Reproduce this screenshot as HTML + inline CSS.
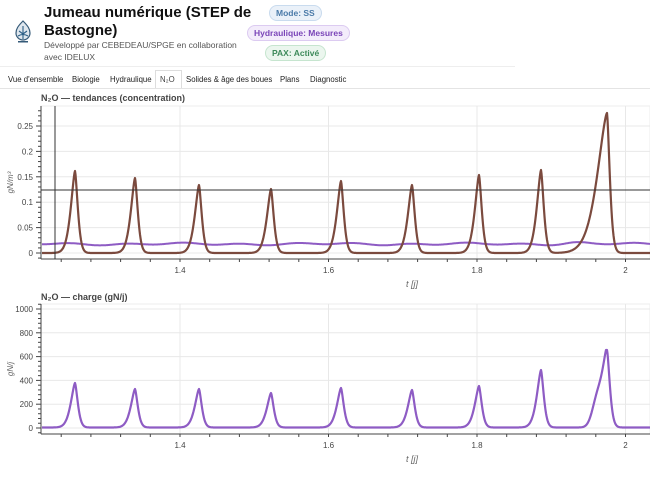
<!DOCTYPE html>
<html><head><meta charset="utf-8"><style>
body{margin:0;width:650px;height:501px;overflow:hidden;background:#fff;font-family:"Liberation Sans",Arial,sans-serif;position:relative}
.t{position:absolute;white-space:nowrap}
.badge{position:absolute;font-size:8.5px;font-weight:bold;border-radius:9px;padding:2px 6px;border:1px solid}
.tab{position:absolute;top:75px;font-size:7.8px;color:#222;white-space:nowrap}
</style></head><body>
<svg class="t" style="left:14px;top:20px" width="18" height="24" viewBox="0 0 18 24">
<path d="M9 1 C4 6 2 9 2 13 A7 7 0 0 0 16 13 C16 9 14 6 9 1Z" fill="#dfe7ee" stroke="#355a78" stroke-width="1.2"/>
<path d="M9 6 V19 M5 11 L9 14 L13 11 M4 16 Q9 13 14 16" stroke="#2d5f86" stroke-width="1.1" fill="none"/>
<rect x="4" y="21" width="10" height="1.5" fill="#355a78"/>
</svg>
<div class="t" style="left:44px;top:4px;font-size:15px;font-weight:bold;color:#111">Jumeau numérique (STEP de</div>
<div class="t" style="left:44px;top:22px;font-size:15px;font-weight:bold;color:#111">Bastogne)</div>
<div class="t" style="left:44px;top:40px;font-size:8.5px;color:#555">Développé par CEBEDEAU/SPGE en collaboration</div>
<div class="t" style="left:44px;top:52px;font-size:8.5px;color:#555">avec IDELUX</div>
<div class="badge" style="left:269px;top:5px;color:#4a7aa8;background:#eaf1f9;border-color:#c9dbee">Mode: SS</div>
<div class="badge" style="left:247px;top:25px;color:#7a45b8;background:#f3ecfb;border-color:#dccbf1">Hydraulique: Mesures</div>
<div class="badge" style="left:265px;top:45px;color:#3d8a5a;background:#ebf6ee;border-color:#c6e5cf">PAX: Activé</div>
<div class="t" style="left:0;top:66px;width:515px;height:1px;background:#eee"></div>
<div class="tab" style="left:8px">Vue d'ensemble</div>
<div class="tab" style="left:72px">Biologie</div>
<div class="tab" style="left:110px">Hydraulique</div>
<div class="t" style="left:155px;top:70px;width:25px;height:18px;border:1px solid #ddd;border-bottom:none;background:#fff"></div>
<div class="tab" style="left:160px;color:#444">N₂O</div>
<div class="tab" style="left:186px">Solides &amp; âge des boues</div>
<div class="tab" style="left:280px">Plans</div>
<div class="tab" style="left:310px">Diagnostic</div>
<div class="t" style="left:0;top:88px;width:650px;height:1px;background:#e4e4e4"></div>
<svg id="s" class="t" style="left:0;top:0" width="650" height="501"></svg>
<script>
var s='',X=function(t){return 180+(t-1.4)*742.5};
var F='font-family="Liberation Sans,Arial,sans-serif"';
function chart(top,bot,y0,step,labels,ylab,title,ty){
 s+='<rect x="41" y="'+top+'" width="609" height="'+(bot-top)+'" fill="#fff" stroke="#eee"/>';
 s+='<text x="41" y="'+ty+'" font-size="9" font-weight="bold" fill="#444" '+F+'>'+title+'</text>';
 for(var t=1.4;t<2.1;t+=0.2){var x=X(t);s+='<line x1="'+x+'" x2="'+x+'" y1="'+top+'" y2="'+bot+'" stroke="#e8e8e8"/>';
  s+='<text x="'+x+'" y="'+(bot+14)+'" font-size="8" fill="#444" text-anchor="middle" '+F+'>'+(Math.round(t*10)/10)+'</text>';}
 for(var t=1.24;t<2.06;t+=0.04){var x=X(t);s+='<line x1="'+x+'" x2="'+x+'" y1="'+bot+'" y2="'+(bot+3)+'" stroke="#444"/>';}
 for(var i=0;i<labels.length;i++){var y=y0-i*step;s+='<line x1="41" x2="650" y1="'+y+'" y2="'+y+'" stroke="#e8e8e8"/>';
  s+='<line x1="36" x2="41" y1="'+y+'" y2="'+y+'" stroke="#444"/><text x="33" y="'+(y+3)+'" font-size="8" fill="#444" text-anchor="end" '+F+'>'+labels[i]+'</text>';
  for(var k=1;k<5;k++){var yy=y-k*step/5;if(yy>top)s+='<line x1="38" x2="41" y1="'+yy+'" y2="'+yy+'" stroke="#444"/>';}}
 for(var k=1;k<4;k++){var yy=y0+k*step/5;if(yy<bot)s+='<line x1="38" x2="41" y1="'+yy+'" y2="'+yy+'" stroke="#444"/>';}
 s+='<line x1="41" x2="41" y1="'+top+'" y2="'+bot+'" stroke="#444"/><line x1="41" x2="650" y1="'+bot+'" y2="'+bot+'" stroke="#444"/>';
 s+='<text transform="translate(13,'+((top+bot)/2)+') rotate(-90)" font-size="8" font-style="italic" fill="#666" text-anchor="middle" '+F+'>'+ylab+'</text>';
 s+='<text x="412" y="'+(bot+28)+'" font-size="9" font-style="italic" fill="#666" text-anchor="middle" '+F+'>t [j]</text>';
}
function peaks(P,base,x){var v=base;for(var i=0;i<P.length;i++){var d=x-P[i][0],w=d<0?(P[i][2]||6):4;v-=(base-P[i][1])*Math.exp(-Math.pow(Math.abs(d)/w,1.5));}return v;}
function path(f,c,w){var d='';for(var x=42;x<=650;x+=0.5){d+=(x==42?'M':'L')+x+' '+f(x).toFixed(1);}s+='<path d="'+d+'" fill="none" stroke="'+c+'" stroke-width="'+w+'" stroke-linejoin="round"/>';}
chart(106,259,253,25.4,['0','0.05','0.1','0.15','0.2','0.25'],'gN/m³','N₂O — tendances (concentration)',101);
var P1=[[75,171],[135,178],[199,185],[271,189],[341,181],[412,185],[479,175],[541,170],[607,113,14]];
path(function(x){return 244-0.8*Math.sin(x/9)-0.6*Math.sin(x/23)-1.2*Math.exp(-Math.pow((x-575)/15,2));},'#8e5cc4',2);
path(function(x){return peaks(P1,253,x);},'#7b4a3e',2.2);
s+='<line x1="41" x2="650" y1="190" y2="190" stroke="#333" stroke-width="1"/><line x1="55" x2="55" y1="106" y2="259" stroke="#333" stroke-width="1"/>';
chart(304,434,428,23.8,['0','200','400','600','800','1000'],'gN/j','N₂O — charge (gN/j)',300);
var P2=[[75,383],[135,389],[199,389],[271,393],[341,388],[412,390],[479,386],[541,370],[607,350,7]];
path(function(x){var v=peaks(P2,427.5,x);if(x<607)v-=22*Math.exp(-Math.pow((x-597)/7,2));return Math.max(v,350);},'#8e5cc4',2.2);
document.getElementById('s').innerHTML=s;
</script>
</body></html>
